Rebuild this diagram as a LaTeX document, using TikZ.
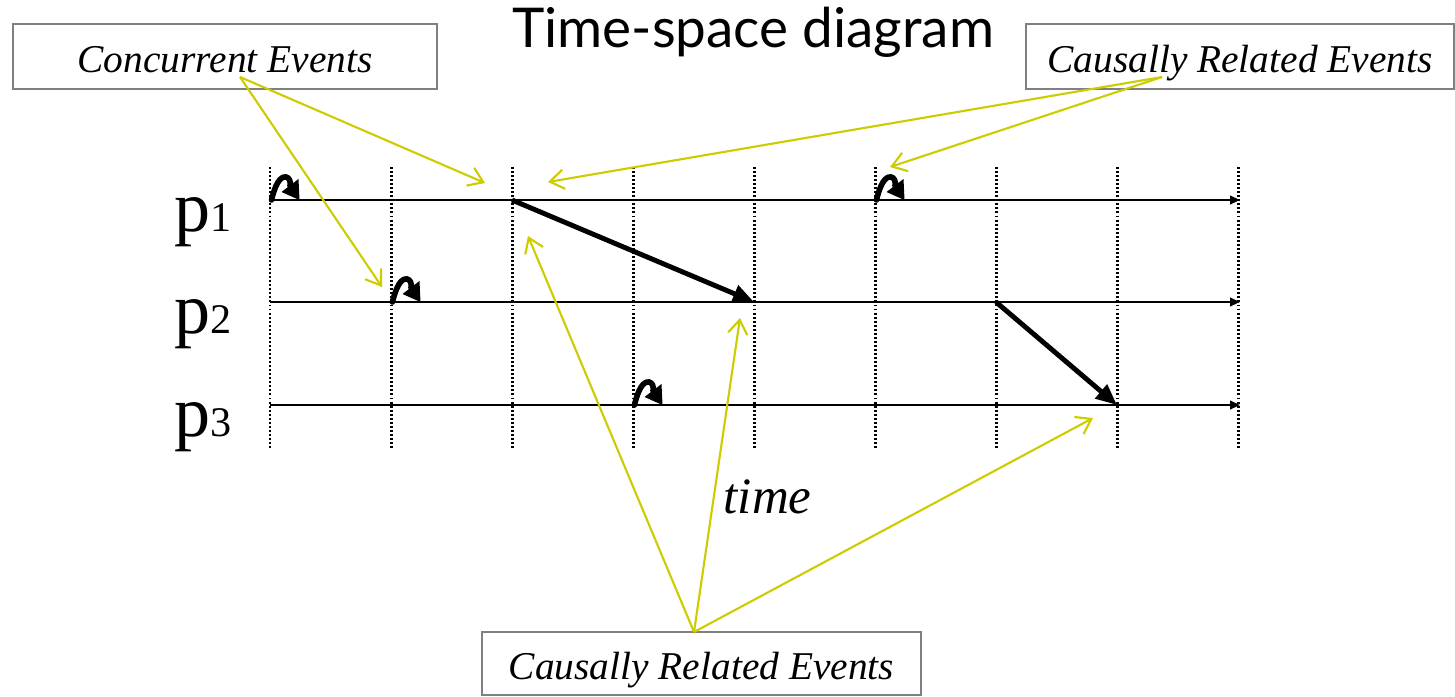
\documentclass[tikz,border=0pt]{standalone}
\usepackage{fontspec}
\setmainfont{Liberation Serif}
\newfontfamily\titlefont{Lato}
\usetikzlibrary{arrows.meta}
\definecolor{hintyellow}{RGB}{204,204,0}
\definecolor{boxgray}{RGB}{128,128,128}

\begin{document}
\begin{tikzpicture}[
    x=0.01cm, y=-0.01cm,
    titleText/.style={
        font=\titlefont\fontsize{15.6}{18}\selectfont, anchor=base, inner sep=0pt
    },
    noteBox/.style={
        rectangle, draw=boxgray, line width=0.6pt, fill=white,
        minimum height=0.65cm, inner sep=0pt, text height=9pt, text depth=0pt,
        font=\itshape\fontsize{11.2}{13}\selectfont
    },
    procLabel/.style={
        anchor=base west, inner sep=0pt, font=\fontsize{20.5}{24}\selectfont
    },
    procLine/.style={
        -{Triangle[length=2.8pt, width=2.4pt]}, line width=0.6pt, draw=black
    },
    tickLine/.style={
        line width=0.85pt, dash pattern=on 0.55pt off 0.6pt
    },
    msgEdge/.style={
        -{Triangle[length=6pt, width=5pt]}, line width=1.4pt, draw=black
    },
    pointer/.style={
        -{Straight Barb[length=4pt, width=5.5pt]}, line width=0.6pt, draw=hintyellow
    },
    pics/selfLoop/.style={code={
        \draw[line width=1.6pt, line cap=round] (1.5,0) .. controls (5,-15) and (10,-24) .. (16,-23)
            .. controls (19,-22.5) and (21,-19) .. (20,-14);
        \fill (11.5,-8) -- (28.5,-21) -- (29.5,0) -- cycle;
    }}
]
\useasboundingbox (0,0) rectangle (1455,696);

% Title
\node[titleText] (title) at (753,47) {Time-space diagram};

% Time grid
\foreach \i/\x in {0/270,1/391,2/512,3/633,4/754,5/875,6/996,7/1117,8/1238} {
    \coordinate (top\i) at (\x,167);
    \coordinate (bot\i) at (\x,450);
    \draw[tickLine] (top\i) -- (bot\i);
}

% Processes
\foreach \p/\y in {1/200,2/302,3/405} {
    \coordinate (p\p s) at (270,\y);
    \coordinate (p\p e) at (1240,\y);
    \draw[procLine] (p\p s) -- (p\p e);
    \node[procLabel] (lbl\p) at (174,\y+31) {p{\fontsize{12}{14}\selectfont\p}};
}

% Events
\coordinate (e1) at (270,200);
\coordinate (e2) at (391,302);
\coordinate (e3) at (633,405);
\coordinate (e4) at (875,200);
\coordinate (m1s) at (512,200);
\coordinate (m1r) at (754,302);
\coordinate (m2s) at (996,302);
\coordinate (m2r) at (1117,405);

\foreach \e in {e1,e2,e3,e4} \pic at (\e) {selfLoop};

% Messages
\draw[msgEdge] (m1s) -- (m1r);
\draw[msgEdge] (m2s) -- (m2r);

\node[anchor=base west, inner sep=0pt, font=\itshape\fontsize{14.5}{17}\selectfont] (timeLbl) at (723,513) {time};

% Notes
\node[noteBox, minimum width=4.24cm] (conc) at (225,56.5) {Concurrent Events};
\node[noteBox, minimum width=4.28cm] (crTop) at (1240,56.5) {Causally Related Events};
\node[noteBox, minimum width=4.39cm, minimum height=0.63cm] (crBot) at (701.5,663.5) {Causally Related Events};

\coordinate (concSrc) at (240,77);
\coordinate (crTopSrc) at (1162,77);
\coordinate (crBotSrc) at (694,632);
\coordinate (concT1) at (485,183);
\coordinate (concT2) at (382,287);
\coordinate (crTopT1) at (548,182);
\coordinate (crTopT2) at (890,167);
\coordinate (crBotT1) at (528,236);
\coordinate (crBotT2) at (740,318);
\coordinate (crBotT3) at (1093,418);

% Pointers
\draw[pointer] (concSrc) -- (concT1);
\draw[pointer] (concSrc) -- (concT2);
\draw[pointer] (crTopSrc) -- (crTopT1);
\draw[pointer] (crTopSrc) -- (crTopT2);
\draw[pointer] (crBotSrc) -- (crBotT1);
\draw[pointer] (crBotSrc) -- (crBotT2);
\draw[pointer] (crBotSrc) -- (crBotT3);

\end{tikzpicture}
\end{document}
